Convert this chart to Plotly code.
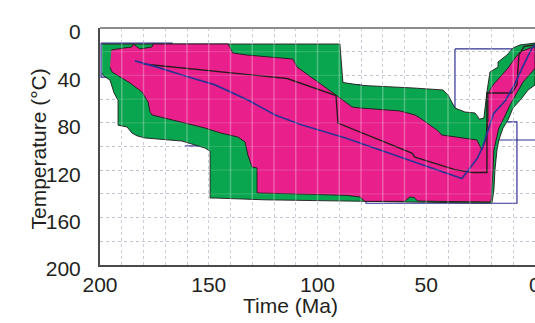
import plotly.graph_objects as go

# ---------------- data (time in Ma, temperature in °C) ----------------
x_ticks = [200, 150, 100, 50]
y_ticks = [0, 40, 80, 120, 160, 200]
edge_tick = 0  # tick label sitting on the clipped right edge

# envelope of acceptable paths (green)
green_t = [199.0, 89.7, 88.3, 79.1, 56.1, 42.3, 40.0, 38.2, 36.8, 32.2, 27.6, 26.2, 25.7,
           23.5, 22.6, 22.1, 20.7, 17.0, 17.0, 12.9, 10.1, 6.9, 0.0,
           0.0, 3.2, 6.0, 10.1, 12.4, 14.7, 16.6, 17.5, 18.4, 18.9, 19.8, 19.8,
           33.6, 60.0, 80.0, 124.0, 147.1, 149.4,
           149.4, 151.7, 162.3, 170.0, 179.3, 183.0, 185.3, 187.6, 191.7, 191.7,
           193.5, 195.4, 198.6, 199.0]
green_T = [13.5, 13.5, 46.0, 48.5, 50.6, 52.3, 56.5, 63.3, 67.5, 70.9, 71.7, 75.0, 77.0,
           76.0, 60.0, 54.0, 37.1, 33.0, 28.7, 22.8, 16.9, 14.3, 12.7,
           48.1, 52.3, 59.1, 67.5, 77.6, 84.4, 94.5, 103.0, 119.8, 136.7, 145.1, 147.7,
           147.5, 146.8, 145.8, 145.0, 143.5, 143.5,
           104.0, 101.3, 95.4, 94.5, 92.8, 91.0, 88.6, 83.5, 82.0, 61.0,
           55.0, 44.0, 40.0, 38.0]

# envelope of good paths (magenta)
pink_t = [194.8, 192.2, 185.3, 184.8, 181.6, 176.1, 175.6, 141.1, 138.9, 132.4, 111.3, 109.4,
          97.9, 92.0, 89.7, 84.1, 80.5, 62.1, 55.2, 52.9, 51.5, 45.1, 42.8, 26.7, 24.4, 22.8,
          21.6, 21.6, 19.3, 16.1, 12.4, 9.2, 6.9, 2.3, 0.0,
          0.0, 1.4, 5.5, 8.3, 11.5, 14.7, 16.6, 17.9, 18.9, 19.3, 19.8, 20.2, 20.6,
          33.6, 44.0, 54.0, 55.5, 57.5, 60.0, 78.2, 80.5, 87.0, 124.0, 127.8,
          127.8, 130.1, 132.0, 133.3, 136.6, 144.8, 151.7, 160.9, 167.8, 176.1, 177.0, 177.9,
          180.7, 183.0, 186.2, 194.5, 195.4]
pink_T = [18.6, 17.7, 16.0, 13.5, 17.7, 16.0, 13.5, 13.5, 21.1, 22.8, 26.2, 32.9,
          48.1, 56.5, 59.0, 66.7, 67.5, 70.0, 73.4, 75.9, 77.6, 86.1, 90.3, 94.5, 103.0, 95.0,
          77.6, 54.9, 48.1, 41.4, 33.8, 25.3, 20.3, 16.9, 16.0,
          33.8, 37.1, 45.6, 54.9, 65.0, 77.6, 84.4, 94.5, 103.0, 119.8, 136.7, 145.5, 146.8,
          146.8, 146.3, 146.0, 143.0, 142.6, 146.3, 146.3, 142.6, 141.2, 139.5, 139.2,
          118.1, 117.3, 107.2, 96.2, 92.0, 88.5, 84.4, 80.2, 77.6, 73.4, 70.9, 62.4,
          54.0, 50.6, 46.4, 37.1, 33.0]

# best-fit path (black)
best_t = [180.2, 121.8, 114.0, 91.5, 90.6, 56.6, 55.2, 36.8, 28.5, 22.1, 22.1, 10.6, 8.3, 7.4, 5.0, 0.0]
best_T = [30.4, 41.4, 42.6, 57.0, 80.2, 105.5, 108.9, 119.5, 122.0, 122.0, 54.9, 54.9, 48.0, 23.0, 15.5, 14.3]

# weighted mean path (blue)
mean_t = [183.9, 173.8, 162.3, 147.1, 132.0, 119.5, 107.1, 92.0, 87.1, 33.6, 26.5, 24.0,
          21.5, 19.0, 13.5, 9.2, 6.0, 3.2, 1.4, 0.0]
mean_T = [27.8, 33.0, 39.7, 48.0, 60.8, 73.4, 81.9, 90.3, 92.8, 127.0, 110.0, 100.0,
          85.0, 72.0, 61.0, 47.0, 34.0, 22.8, 17.0, 14.5]

# constraint boxes: (t_old, t_young, T_top, T_bottom)
boxes = [(199.5, 166.9, 12.7, 41.4),
         (77.7, 8.3, 79.3, 147.9),
         (36.8, -5.0, 17.7, 94.5)]
# constraint edges visible as short segments: (t_old, t_young, T)
segments = [(160.9, 152.0, 99.5), (87.5, 79.5, 48.0)]

# ---------------- styling ----------------
GREEN = "#0aa64f"
PINK = "#e9208c"
NAVY = "#2e3192"
OUTLINE = "#1f1a1c"
GRID = "rgb(182,187,202)"
FONT = "Liberation Sans, Arial, Helvetica, sans-serif"
TXT = "#231f20"

fig = go.Figure()

for (a, b, c, d) in boxes:
    fig.add_trace(go.Scatter(x=[a, b, b, a, a], y=[c, c, d, d, c], mode="lines",
                             line=dict(color=NAVY, width=1.2), hoverinfo="skip"))
for (a, b, c) in segments:
    fig.add_trace(go.Scatter(x=[a, b], y=[c, c], mode="lines",
                             line=dict(color=NAVY, width=1.2), hoverinfo="skip"))

fig.add_trace(go.Scatter(x=green_t, y=green_T, mode="lines", fill="toself", fillcolor=GREEN,
                         line=dict(color=OUTLINE, width=0.9), hoverinfo="skip"))
fig.add_trace(go.Scatter(x=pink_t, y=pink_T, mode="lines", fill="toself", fillcolor=PINK,
                         line=dict(color=OUTLINE, width=0.9), hoverinfo="skip"))
fig.add_trace(go.Scatter(x=best_t, y=best_T, mode="lines",
                         line=dict(color="#2a1a1f", width=1.4), hoverinfo="skip"))
fig.add_trace(go.Scatter(x=mean_t, y=mean_T, mode="lines",
                         line=dict(color=NAVY, width=1.7), hoverinfo="skip"))

# light stripes of the grid showing through the envelopes
shapes = []
for v in range(10, 200, 10):
    shapes.append(dict(type="line", xref="x", yref="paper", x0=v, x1=v, y0=0, y1=1,
                       line=dict(color="rgba(255,255,255,0.28)", width=1.5), layer="above"))
for v in range(20, 200, 20):
    shapes.append(dict(type="line", xref="paper", yref="y", x0=0, x1=1, y0=v, y1=v,
                       line=dict(color="rgba(255,255,255,0.14)", width=1.2), layer="above"))
shapes.append(dict(type="line", xref="paper", yref="paper", x0=0, x1=1, y0=1, y1=1,
                   line=dict(color="#8c8c8c", width=2), layer="above"))

fig.update_layout(
    width=535, height=323,
    margin=dict(l=100, r=0, t=28, b=58, pad=0, autoexpand=False),
    paper_bgcolor="white", plot_bgcolor="white",
    showlegend=False,
    font=dict(family=FONT, size=21, color=TXT),
    shapes=shapes,
    xaxis=dict(range=[200, 0], tickvals=x_ticks, ticktext=[str(v) for v in x_ticks],
               automargin=False,
               showgrid=True, gridcolor=GRID, griddash="dot", gridwidth=1,
               minor=dict(dtick=10, showgrid=True, gridcolor=GRID, griddash="dot", gridwidth=1),
               showline=True, linecolor="#4a4a4a", linewidth=2, zeroline=False,
               ticks="", ticklabelstandoff=0, tickfont=dict(size=21, family=FONT, color=TXT),
               layer="above traces"),
    yaxis=dict(range=[200, 0], tickvals=y_ticks, ticktext=[str(v) for v in y_ticks],
               automargin=False,
               showgrid=True, gridcolor=GRID, griddash="dot", gridwidth=1,
               minor=dict(dtick=20, showgrid=True, gridcolor=GRID, griddash="dot", gridwidth=1),
               showline=True, linecolor="#4a4a4a", linewidth=2, zeroline=False,
               ticks="", ticklabelstandoff=13, ticklabelshift=-4,
               tickfont=dict(size=21, family=FONT, color=TXT),
               layer="above traces"),
    annotations=[
        dict(text=str(edge_tick), xref="x", yref="paper", x=edge_tick, y=0, yshift=-19,
             xanchor="center", yanchor="middle", showarrow=False,
             font=dict(size=21, family=FONT, color=TXT)),
        dict(text="Time (Ma)", xref="paper", yref="paper", x=0.437, y=0, yshift=-40,
             xanchor="center", yanchor="middle", showarrow=False,
             font=dict(size=21, family=FONT, color=TXT)),
        dict(text="Temperature (°C)", xref="paper", yref="paper", x=0, y=0.5, xshift=-62,
             yshift=-3, textangle=-90, xanchor="center", yanchor="middle", showarrow=False,
             font=dict(size=21, family=FONT, color=TXT)),
    ],
)

fig.write_html("out.html", config={"displayModeBar": False, "staticPlot": True},
               post_script="document.body.style.margin='0';document.body.style.padding='0';"
                           "document.body.style.overflow='hidden';")
